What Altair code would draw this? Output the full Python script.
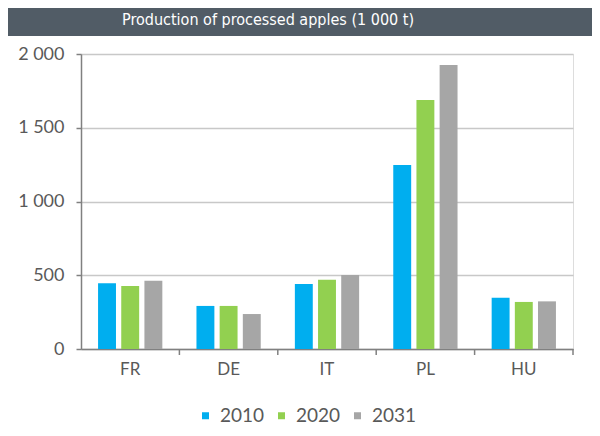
import altair as alt
import pandas as pd

countries = ["FR", "DE", "IT", "PL", "HU"]
years = ["2010", "2020", "2031"]
v2010 = [445, 292, 441, 1247, 348]
v2020 = [427, 292, 470, 1688, 319]
v2031 = [463, 237, 502, 1925, 323]
colors = ["#00aeef", "#92d050", "#a6a6a6"]
y_ticks = [0, 500, 1000, 1500, 2000]
title_text = "Production of processed apples (1 000 t)"

rows = []
for yr, vals in zip(years, [v2010, v2020, v2031]):
    for c, v in zip(countries, vals):
        rows.append({"country": c, "year": yr, "value": v})
df = pd.DataFrame(rows)

FONT = "Lato"
GREY = "#595959"

xscale = alt.Scale(domain=countries, paddingInner=0, paddingOuter=0)

bars = alt.Chart(df).mark_bar().encode(
    x=alt.X("country:N", sort=countries, scale=xscale,
            axis=alt.Axis(title=None, labelAngle=0, ticks=False, domain=True,
                          domainColor="#808080", domainWidth=1.5,
                          labelFontSize=17, labelColor=GREY, labelPadding=12,
                          labelFont=FONT)),
    xOffset=alt.XOffset("year:N", sort=years,
                        scale=alt.Scale(paddingInner=0.227, paddingOuter=0.736)),
    y=alt.Y("value:Q", scale=alt.Scale(domain=[0, 2000]),
            axis=alt.Axis(title=None, values=y_ticks,
                          labelExpr="replace(format(datum.value, ','), ',', ' ')",
                          grid=True, gridColor="#c8c8c8", gridWidth=1.5,
                          domainColor="#808080", domainWidth=1.5,
                          tickColor="#808080", tickSize=5, tickWidth=1.5,
                          labelFontSize=18, labelColor=GREY, labelPadding=12,
                          labelFont=FONT)),
    color=alt.Color("year:N", sort=years,
                    scale=alt.Scale(domain=years, range=colors),
                    legend=alt.Legend(title=None, orient="none", direction="horizontal",
                                      legendX=115, legendY=352,
                                      symbolType="square", symbolSize=49,
                                      symbolStrokeWidth=0, labelFontSize=19,
                                      labelColor=GREY, labelFont=FONT,
                                      columnPadding=7, labelOffset=5)),
)

ticks = alt.Chart(pd.DataFrame({"country": countries})).mark_rule(
    color="#808080", strokeWidth=1.5
).encode(
    x=alt.X("country:N", sort=countries, scale=xscale, bandPosition=1),
    y=alt.value(295), y2=alt.value(301),
)

title_df = pd.DataFrame({"t": [title_text]})
banner = alt.Chart(title_df).mark_rect(color="#515c66").encode(
    x=alt.value(-73), x2=alt.value(511), y=alt.value(-46), y2=alt.value(-18)
)
title = alt.Chart(title_df).mark_text(
    color="white", fontSize=16, font="DejaVu Sans Condensed, Roboto", baseline="middle", align="center"
).encode(text="t:N", x=alt.value(187), y=alt.value(-34))

chart = alt.layer(banner, title, bars, ticks).properties(
    width=492, height=295,
    autosize=alt.AutoSizeParams(type="none"),
    padding={"left": 73, "top": 46, "right": 19, "bottom": 78},
).configure_view(stroke=None).configure(background="white")

chart.save("out.html", embed_options={"renderer": "svg", "actions": False})
